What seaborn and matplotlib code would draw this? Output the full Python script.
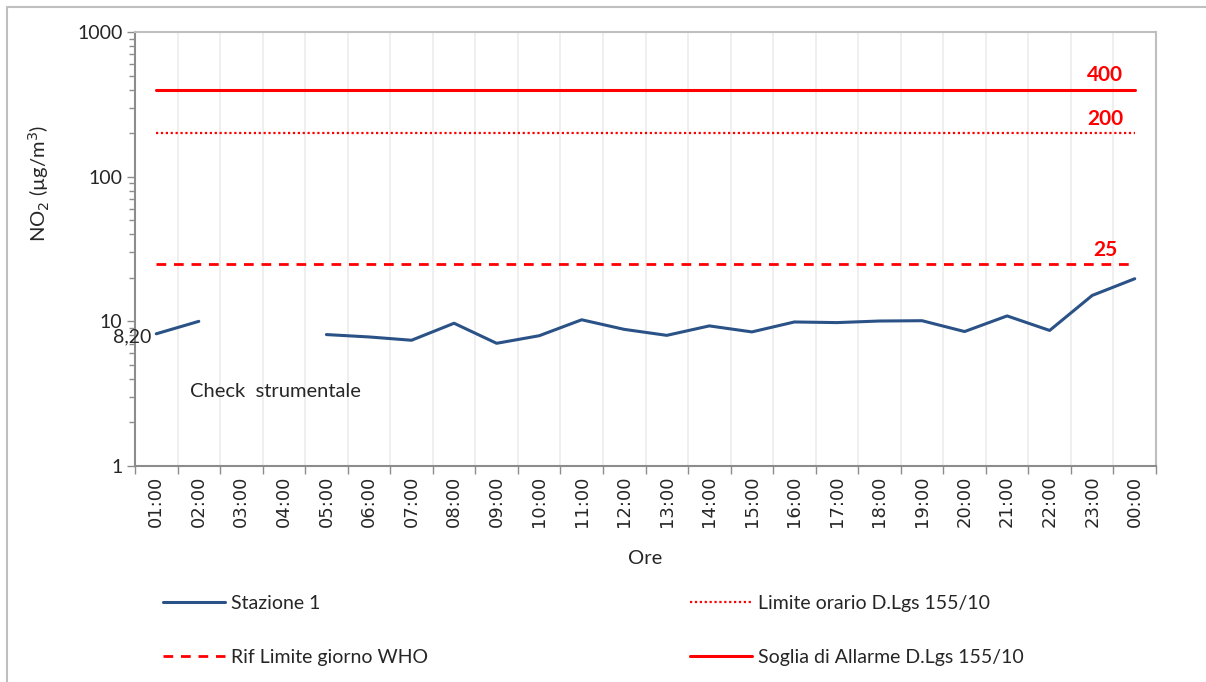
import numpy as np
import pandas as pd
import matplotlib
matplotlib.use("Agg")
import matplotlib.pyplot as plt
from matplotlib.lines import Line2D
import seaborn as sns

ore = ["01:00", "02:00", "03:00", "04:00", "05:00", "06:00", "07:00", "08:00",
       "09:00", "10:00", "11:00", "12:00", "13:00", "14:00", "15:00", "16:00",
       "17:00", "18:00", "19:00", "20:00", "21:00", "22:00", "23:00", "00:00"]
stazione1 = [8.2, 10.0, np.nan, np.nan, 8.1, 7.8, 7.4, 9.7, 7.05, 7.95, 10.25, 8.8,
             8.0, 9.3, 8.45, 9.9, 9.8, 10.05, 10.1, 8.5, 10.9, 8.65, 15.1, 19.7]
limite_orario = [200] * 24
rif_who = [25] * 24
soglia_allarme = [400] * 24

sns.set_theme(style="white")
plt.rcParams["font.family"] = ["Lato", "DejaVu Sans"]

W, H = 1206, 682
fig = plt.figure(figsize=(W / 100, H / 100), dpi=100)
ax = fig.add_axes([135 / W, 1 - 466 / H, (1156 - 135) / W, (466 - 32) / H])

df = pd.DataFrame({"x": np.arange(24), "Stazione 1": stazione1,
                   "lim": limite_orario, "who": rif_who, "soglia": soglia_allarme})

blue = "#2A5287"
red = "#FF0000"

sns.lineplot(data=df, x="x", y="soglia", ax=ax, color=red, lw=2.2, zorder=3)
sns.lineplot(data=df, x="x", y="lim", ax=ax, color=red, lw=1.6, linestyle=(0, (1, 1.2)), zorder=3)
sns.lineplot(data=df, x="x", y="who", ax=ax, color=red, lw=2.0, linestyle=(0, (3.5, 2.8)), zorder=3)
# draw contiguous segments of the station series
valid = df["Stazione 1"].notna()
seg = df["Stazione 1"].isna().cumsum()
for _, part in df[valid].groupby(seg[valid]):
    sns.lineplot(data=part, x="x", y="Stazione 1", ax=ax, color=blue, lw=2.2, zorder=4)

ax.set_yscale("log")
ax.set_ylim(1, 1000)
ax.set_xlim(-0.5, 23.5)

ax.set_xticks(np.arange(24))
ax.set_xticklabels(ore, rotation=90, family="DejaVu Sans", fontsize=13)
ax.set_xticks(np.arange(-0.5, 24, 1), minor=True)
ax.tick_params(axis="x", which="major", length=0, pad=7)
ax.tick_params(axis="x", which="minor", length=6, width=1, color="#8c8c8c", bottom=True)
ax.grid(False)
ax.grid(True, axis="x", which="minor", color="#ececec", lw=1.2)
ax.set_axisbelow(True)

ax.set_yticks([1, 10, 100, 1000])
ax.set_yticklabels(["1", "10", "100", "1000"], fontsize=14)
ax.tick_params(axis="y", which="major", length=6, width=1, color="#8c8c8c", left=True)
ax.tick_params(axis="y", which="minor", length=4, width=1, color="#8c8c8c", left=True)
ax.tick_params(axis="y", pad=3)

for s in ["left", "bottom"]:
    ax.spines[s].set_color("#8c8c8c")
    ax.spines[s].set_linewidth(1.5)
for s in ["top", "right"]:
    ax.spines[s].set_color("#bfbfbf")
    ax.spines[s].set_linewidth(1.5)

ax.set_xlabel("Ore", fontsize=14.5, labelpad=16)
ax.set_ylabel("NO$_2$ (µg/m$^3$)", fontsize=14.5, labelpad=10)
ax.yaxis.set_label_coords(-0.081, 0.65)

ax.text(22.3, 400 * 1.08, "400", color=red, fontsize=15, fontweight="bold", ha="center", va="bottom")
ax.text(22.3, 200 * 1.06, "200", color=red, fontsize=15, fontweight="bold", ha="center", va="bottom")
ax.text(22.3, 25 * 1.07, "25", color=red, fontsize=15, fontweight="bold", ha="center", va="bottom")
ax.text(-0.12, 7.85, "8,20", fontsize=14, ha="right", va="center")
ax.text(0.8, 3.25, "Check  strumentale", fontsize=14.5, ha="left", va="center")

h1 = Line2D([], [], color=blue, lw=2.2)
h2 = Line2D([], [], color=red, lw=1.6, linestyle=(0, (1, 1.2)))
h3 = Line2D([], [], color=red, lw=2.0, linestyle=(0, (3.5, 2.8)))
h4 = Line2D([], [], color=red, lw=2.2)
kw = dict(frameon=False, fontsize=14, handlelength=3.2, handletextpad=0.3,
          labelspacing=1.9, loc="upper left", borderaxespad=0, borderpad=0)
leg1 = fig.legend([h1, h3], ["Stazione 1", "Rif Limite giorno WHO"],
                  bbox_to_anchor=(163 / W, 1 - 595 / H), **kw)
leg2 = fig.legend([h2, h4], ["Limite orario D.Lgs 155/10", "Soglia di Allarme D.Lgs 155/10"],
                  bbox_to_anchor=(690 / W, 1 - 595 / H), **kw)

# outer chart frame
fig.add_artist(Line2D([7 / W, 1.0], [1 - 7 / H, 1 - 7 / H], transform=fig.transFigure, color="#bfbfbf", lw=1.5))
fig.add_artist(Line2D([7 / W, 7 / W], [0, 1 - 7 / H], transform=fig.transFigure, color="#bfbfbf", lw=1.5))

fig.savefig("out.png", dpi=100)
